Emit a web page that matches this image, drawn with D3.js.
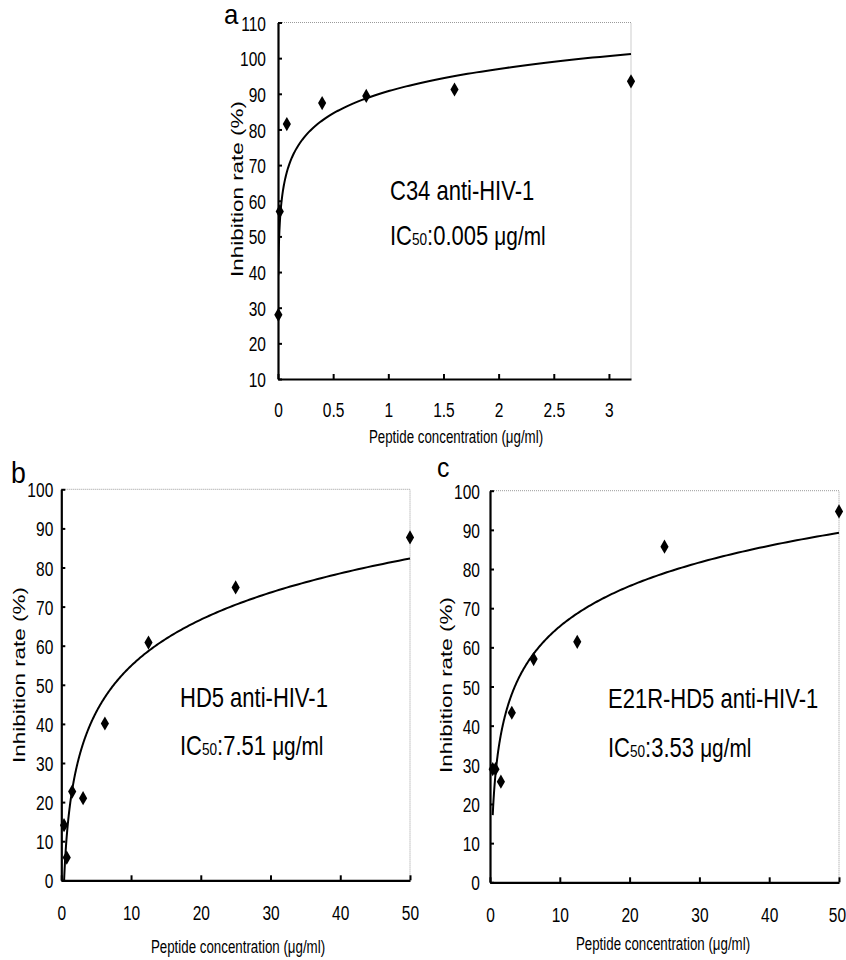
<!DOCTYPE html>
<html>
<head>
<meta charset="utf-8">
<script src="https://cdn.jsdelivr.net/npm/d3@7"></script>
<style>
  body { margin: 0; background: #fff; }
  text { font-family: 'Liberation Sans', Arial, sans-serif; fill: #000; }
</style>
</head>
<body>
<div id="chart"></div>
<script>
// values
const concA = [0.0032, 0.016, 0.08, 0.4, 0.8, 1.6, 3.2];
const inhibA = [28, 57, 81.5, 87.4, 89.4, 91.2, 93.5];
const concB = [0.39, 0.78, 1.56, 3.125, 6.25, 12.5, 25, 50];
const inhibB = [14.1, 5.8, 22.7, 21.0, 40.1, 60.8, 74.9, 87.7];
const concC = [0.39, 0.78, 1.56, 3.125, 6.25, 12.5, 25, 50];
const inhibC = [28.9, 28.9, 25.7, 43.3, 57.0, 61.4, 85.7, 94.7];

const xTicksA = [0, 0.5, 1, 1.5, 2, 2.5, 3];
const yTicksA = [10, 20, 30, 40, 50, 60, 70, 80, 90, 100, 110];
const xTicksBC = [0, 10, 20, 30, 40, 50];
const yTicksBC = [0, 10, 20, 30, 40, 50, 60, 70, 80, 90, 100];

const peptides = ['C34 anti-HIV-1', 'HD5 anti-HIV-1', 'E21R-HD5 anti-HIV-1'];
const ic50s = ['0.005', '7.51', '3.53'];
const letters = ['a', 'b', 'c'];

const W = 846, H = 960;
const svg = d3.select('#chart').append('svg')
  .attr('width', W)
  .attr('height', H);

// layout of the three panels
const panels = [
  { conc: concA, inhib: inhibA, xDom: [0, 3.2], yDom: [10, 110], xTicks: xTicksA, yTicks: yTicksA,
    l: 278, r: 631, t: 22.5, b: 379, yPad: 12, xLab: 38, letter: [224, 24, 28],
    yTitle: [243, 189], xTitle: [456, 443], note: [390, 200, 245] },
  { conc: concB, inhib: inhibB, xDom: [0, 50], yDom: [0, 100], xTicks: xTicksBC, yTicks: yTicksBC,
    l: 61.3, r: 410, t: 489.3, b: 880.3, yPad: 8, xLab: 40, letter: [11, 483, 29],
    yTitle: [25, 675], xTitle: [238, 953], note: [180, 707, 755] },
  { conc: concC, inhib: inhibC, xDom: [0, 50], yDom: [0, 100], xTicks: xTicksBC, yTicks: yTicksBC,
    l: 490, r: 839, t: 490.7, b: 882.3, yPad: 10, xLab: 40, letter: [437, 477, 27],
    yTitle: [452, 685], xTitle: [663, 950], note: [608, 708, 757] }
];

// least squares fit y = a*ln(x) + b (the log trendline)
function logFit(xs, ys) {
  const lx = xs.map(Math.log);
  const mx = d3.mean(lx), my = d3.mean(ys);
  let sxy = 0, sxx = 0;
  lx.forEach((v, i) => { sxy += (v - mx) * (ys[i] - my); sxx += (v - mx) * (v - mx); });
  const a = sxy / sxx;
  return { a: a, b: my - a * mx };
}

const sx = 0.8;   // the figure is squeezed horizontally
const tickSx = 0.74;

panels.forEach((p, i) => {
  const g = svg.append('g');
  const x = d3.scaleLinear().domain(p.xDom).range([p.l, p.r]);
  const y = d3.scaleLinear().domain(p.yDom).range([p.b, p.t]);

  // dotted frame top and right
  g.append('path')
    .attr('d', `M${p.l},${p.t}H${p.r}V${p.b}`)
    .attr('fill', 'none')
    .attr('stroke', '#9a9a9a')
    .attr('stroke-width', 1)
    .attr('stroke-dasharray', '1,1');

  // x axis, ticks pointing up
  const xAxis = g.append('g')
    .attr('transform', `translate(0,${p.b})`)
    .call(d3.axisBottom(x).tickValues(p.xTicks).tickSizeInner(-5).tickSizeOuter(0).tickFormat(d3.format('')));
  xAxis.select('.domain').attr('stroke-width', 2.2);
  xAxis.selectAll('.tick line').attr('stroke-width', 2);
  xAxis.selectAll('.tick text')
    .attr('y', null).attr('dy', null)
    .attr('transform', d => {
      // keep the last label inside the page
      const shift = x(d) + 9 > W ? W - 9 - x(d) : 0;
      return `translate(${shift},${p.xLab}) scale(${tickSx},1)`;
    })
    .style('font-size', '21px')
    .style('font-family', null);

  // y axis, ticks pointing in
  const yAxis = g.append('g')
    .attr('transform', `translate(${p.l},0)`)
    .call(d3.axisLeft(y).tickValues(p.yTicks).tickSizeInner(-4).tickSizeOuter(0));
  yAxis.select('.domain').attr('stroke-width', 2.2);
  yAxis.selectAll('.tick line').attr('stroke-width', 2);
  yAxis.selectAll('.tick text')
    .attr('x', null)
    .attr('dy', '0.36em')
    .attr('transform', `translate(${-p.yPad},0) scale(${tickSx},1)`)
    .style('font-size', '21px')
    .style('font-family', null);
  g.selectAll('.domain').attr('stroke', '#000');

  // fitted log curve
  const fit = logFit(p.conc, p.inhib);
  const lo = Math.log(d3.min(p.conc)), hi = Math.log(d3.max(p.conc));
  const xs = d3.range(0, 301).map(k => Math.exp(lo + (hi - lo) * k / 300));
  const clipId = 'clip' + i;
  svg.append('clipPath').attr('id', clipId)
    .append('rect').attr('x', p.l).attr('y', p.t - 5).attr('width', p.r - p.l + 5).attr('height', p.b - p.t + 5);
  g.append('path')
    .datum(xs)
    .attr('clip-path', `url(#${clipId})`)
    .attr('fill', 'none')
    .attr('stroke', '#000')
    .attr('stroke-width', 2)
    .attr('d', d3.line().x(d => x(d)).y(d => y(fit.a * Math.log(d) + fit.b)));

  // data points as narrow diamonds
  g.selectAll('.pt')
    .data(p.conc.map((c, k) => [c, p.inhib[k]]))
    .enter()
    .append('path')
    .attr('class', 'pt')
    .attr('transform', d => `translate(${x(d[0])},${y(d[1])})`)
    .attr('d', d3.symbol().type(d3.symbolDiamond).size(58))
    .attr('fill', '#000');

  // panel letter
  g.append('text')
    .attr('transform', `translate(${p.letter[0]},${p.letter[1]}) scale(0.92,1)`)
    .style('font-size', p.letter[2] + 'px')
    .text(letters[i]);

  // axis titles
  g.append('text')
    .attr('transform', `translate(${p.xTitle[0]},${p.xTitle[1]}) scale(0.72,1)`)
    .attr('text-anchor', 'middle')
    .style('font-size', '18.5px')
    .text('Peptide concentration (μg/ml)');
  g.append('text')
    .attr('transform', `translate(${p.yTitle[0]},${p.yTitle[1]}) rotate(-90)`)
    .attr('text-anchor', 'middle')
    .attr('textLength', 176)
    .attr('lengthAdjust', 'spacingAndGlyphs')
    .style('font-size', '16.5px')
    .text('Inhibition rate (%)');

  // annotations
  g.append('text')
    .attr('transform', `translate(${p.note[0]},${p.note[1]}) scale(${sx},1)`)
    .style('font-size', '27.5px')
    .text(peptides[i]);
  const ic = g.append('text')
    .attr('transform', `translate(${p.note[0]},${p.note[2]}) scale(${sx},1)`)
    .style('font-size', '27.5px');
  ic.append('tspan').text('IC');
  ic.append('tspan').style('font-size', '17px').text('50');
  ic.append('tspan').text(':' + ic50s[i] + ' ');
  ic.append('tspan').style('font-size', '26px').text('μg/ml');
});
</script>
</body>
</html>
